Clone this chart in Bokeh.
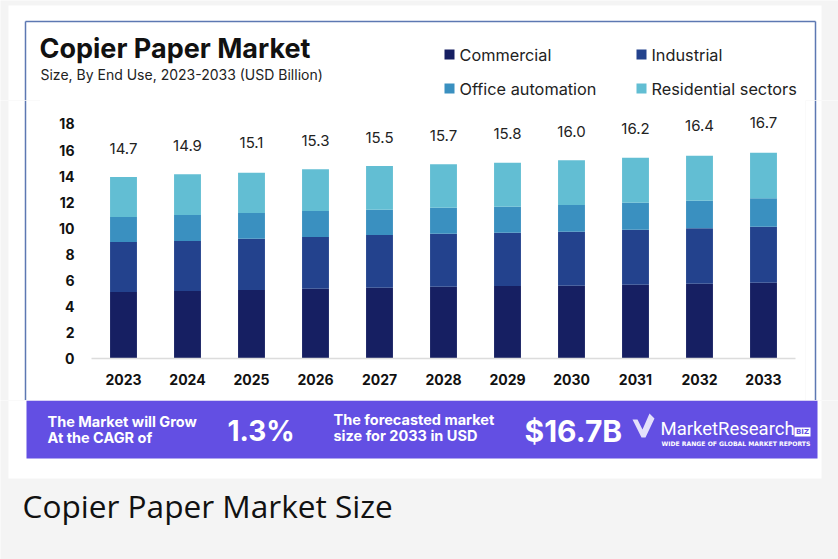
from bokeh.plotting import figure
from bokeh.models import FactorRange, Range1d, FixedTicker, ColumnDataSource
from bokeh.layouts import column, row
from bokeh.core.properties import value
from bokeh.embed import file_html
from bokeh.resources import INLINE

# ---------------- data ----------------
years = ["2023", "2024", "2025", "2026", "2027", "2028", "2029", "2030", "2031", "2032", "2033"]
commercial = [5.10, 5.18, 5.26, 5.36, 5.43, 5.51, 5.56, 5.58, 5.66, 5.74, 5.82]
industrial = [3.84, 3.84, 3.93, 3.96, 4.05, 4.07, 4.09, 4.15, 4.23, 4.25, 4.30]
office_automation = [1.92, 2.00, 1.98, 2.00, 1.94, 1.99, 2.00, 2.05, 2.07, 2.12, 2.17]
residential = [3.07, 3.12, 3.09, 3.20, 3.35, 3.33, 3.38, 3.43, 3.45, 3.45, 3.50]
total_labels = ["14.7", "14.9", "15.1", "15.3", "15.5", "15.7", "15.8", "16.0", "16.2", "16.4", "16.7"]
total_values = [14.7, 14.9, 15.1, 15.3, 15.5, 15.7, 15.8, 16.0, 16.2, 16.4, 16.7]
series_names = ["Commercial", "Industrial", "Office automation", "Residential sectors"]
y_ticks = [0, 2, 4, 6, 8, 10, 12, 14, 16, 18]

colors = ["#161f62", "#23428d", "#3a90c0", "#62bed3"]
FONT = "Inter"
GRAY = "#f4f4f4"
WHITE = "#ffffff"
BORDER = "#5d78b2"
PURPLE = "#634fe3"


def panel(w, h, x0, x1, y0, y1, bg=GRAY):
    """A figure whose data coordinates equal page pixels (y downwards)."""
    f = figure(width=w, height=h, x_range=Range1d(x0, x1), y_range=Range1d(y1, y0),
               output_backend="svg", toolbar_location=None,
               x_axis_location=None, y_axis_location=None, frame_align=False,
               min_border_left=0, min_border_right=0, min_border_top=0, min_border_bottom=0)
    f.background_fill_color = bg
    f.border_fill_color = bg
    f.outline_line_color = None
    f.xgrid.visible = False
    f.ygrid.visible = False
    return f


def txt(f, x, y, s, size, bold=False, color="#111111", font=FONT, align="left"):
    f.text(x=[x], y=[y], text=[s], text_font=value(font), text_font_size=size,
           text_font_style="bold" if bold else "normal", text_color=color,
           text_align=align, text_baseline="middle")


# ---------------- top band: title, subtitle, legend ----------------
top = panel(838, 100, 0, 838, 0, 100)
top.quad(left=[8], right=[821], top=[5], bottom=[100], fill_color=WHITE, line_color=None)
top.segment(x0=[25, 25, 815], y0=[21, 21, 21], x1=[815, 25, 815], y1=[21, 100, 100],
            line_color=BORDER, line_width=1.5)
txt(top, 39, 48, "Copier Paper Market", "27px", bold=True)
txt(top, 40, 74, "Size, By End Use, 2023-2033 (USD Billion)", "14px", color="#222222")
leg_x = [444, 636, 444, 636]
leg_y = [54, 54, 88, 88]
top.rect(x=[v + 5 for v in leg_x], y=leg_y, width=10, height=10, fill_color=colors,
         line_color=None)
top.text(x=[v + 15 for v in leg_x], y=leg_y, text=series_names, text_font=value(FONT),
         text_font_size="16.3px", text_color="#222222", text_baseline="middle")

# ---------------- middle band: the chart ----------------
left = panel(40, 300, 0, 40, 100, 400)
left.quad(left=[8], right=[40], top=[100], bottom=[400], fill_color=WHITE, line_color=None)
left.segment(x0=[25], y0=[100], x1=[25], y1=[400], line_color=BORDER, line_width=1.5)

right = panel(33, 300, 805, 838, 100, 400)
right.quad(left=[805], right=[821], top=[100], bottom=[400], fill_color=WHITE, line_color=None)
right.segment(x0=[815], y0=[100], x1=[815], y1=[400], line_color=BORDER, line_width=1.5)

PX_PER_UNIT = 13.03
p = figure(x_range=FactorRange(*years, range_padding=0),
           y_range=Range1d(0, 258 / PX_PER_UNIT),
           width=765, height=300, output_backend="svg", toolbar_location=None,
           frame_align=False,
           min_border_left=51, min_border_right=10, min_border_top=0, min_border_bottom=42)
p.border_fill_color = WHITE
p.background_fill_color = WHITE
p.outline_line_color = None
p.xgrid.grid_line_color = None
p.ygrid.grid_line_color = None

src = ColumnDataSource(dict(years=years, Commercial=commercial, Industrial=industrial,
                            **{"Office automation": office_automation,
                               "Residential sectors": residential}))
p.vbar_stack(series_names, x="years", width=0.42, color=colors, source=src, line_color=None)

lab_src = ColumnDataSource(dict(x=years, y=[v + 1.45 for v in total_values], t=total_labels))
p.text(x="x", y="y", text="t", source=lab_src, text_align="center", text_baseline="middle",
       text_font=value(FONT), text_font_size="15px", text_color="#222222")

p.yaxis.ticker = FixedTicker(ticks=y_ticks)
for ax in (p.xaxis[0], p.yaxis[0]):
    ax.major_tick_line_color = None
    ax.minor_tick_line_color = None
    ax.major_tick_out = 0
    ax.major_tick_in = 0
    ax.minor_tick_out = 0
    ax.minor_tick_in = 0
    ax.major_label_text_font = FONT
    ax.major_label_text_font_style = "bold"
    ax.major_label_text_font_size = "14px"
    ax.major_label_text_color = "#111111"
p.yaxis.axis_line_color = None
p.yaxis.major_label_standoff = 17
p.xaxis.axis_line_color = "#dcdcdc"
p.xaxis.axis_line_width = 1.5
p.xaxis.major_label_standoff = 15

# ---------------- bottom band: banner and caption ----------------
bot = panel(838, 159, 0, 838, 400, 559)
bot.quad(left=[8], right=[821], top=[400], bottom=[478], fill_color=WHITE, line_color=None)
bot.quad(left=[26], right=[817], top=[400], bottom=[458], fill_color=PURPLE, line_color=None)
txt(bot, 47, 421, "The Market will Grow", "14.5px", bold=True, color=WHITE)
txt(bot, 47, 437, "At the CAGR of", "14.5px", bold=True, color=WHITE)
txt(bot, 227, 430, "1.3%", "28px", bold=True, color=WHITE)
txt(bot, 333, 418.5, "The forecasted market", "14.5px", bold=True, color=WHITE)
txt(bot, 333, 435, "size for 2033 in USD", "14.5px", bold=True, color=WHITE)
txt(bot, 524, 430, "$16.7B", "30px", bold=True, color=WHITE)
bot.patch(x=[632, 637, 642, 649, 654, 645, 641], y=[419, 419, 429, 413, 418, 437, 437],
          fill_color="#e4e0fb", line_color=None)
txt(bot, 660, 428.5, "MarketResearch", "18.5px", color=WHITE, font="Roboto")
bot.quad(left=[794], right=[810], top=[427], bottom=[436], fill_color=WHITE, line_color=None)
txt(bot, 802, 431.5, "BIZ", "7px", bold=True, color=PURPLE, font="DejaVu Sans", align="center")
txt(bot, 661, 443, "WIDE RANGE OF GLOBAL MARKET REPORTS", "6.1px", bold=True, color=WHITE,
    font="DejaVu Sans")
txt(bot, 22, 504.5, "Copier Paper Market Size", "31.6px", color="#111111", font="Open Sans")

layout = column(top, row(left, p, right), bot)
open("out.html", "w").write(file_html(layout, INLINE))
